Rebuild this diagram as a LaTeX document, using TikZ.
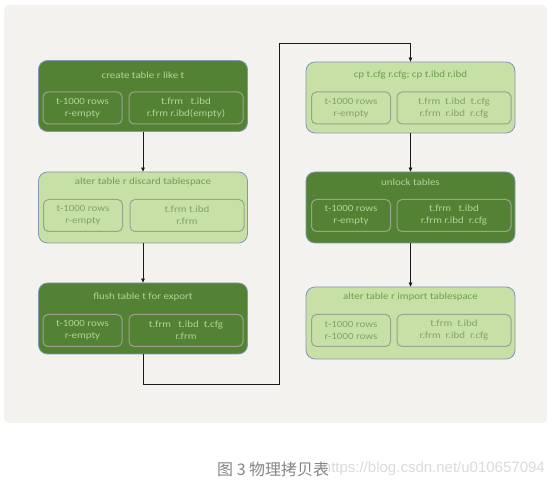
\documentclass[tikz,border=0pt]{standalone}
\usepackage{fontspec}
\setmainfont{Carlito}[FakeStretch=1.15]
\newfontfamily\cjkfont{Noto Sans CJK SC}
\newfontfamily\wmfont{Liberation Sans}
\usetikzlibrary{arrows.meta}
\definecolor{panelbg}{HTML}{F3F2EE}
\definecolor{darkgreen}{HTML}{548235}
\definecolor{lightgreen}{HTML}{C6E0A6}
\definecolor{darktext}{HTML}{B0D496}
\definecolor{lighttext}{HTML}{6E9E4C}
\definecolor{lightinnertext}{HTML}{85A06E}
\definecolor{stageborder}{HTML}{8497B0}
\definecolor{innerborder}{HTML}{9CA292}
\definecolor{captiongray}{HTML}{858585}
\definecolor{wmgray}{HTML}{DADADA}
\tikzset{
  stagebox/.style={draw=stageborder, line width=0.8pt, rounded corners=9pt,
    minimum width=209pt, minimum height=71pt, inner sep=0pt},
  darkbox/.style={stagebox, fill=darkgreen},
  lightbox/.style={stagebox, fill=lightgreen},
  ttl/.style={font=\fontsize{9.5}{12}\selectfont, inner sep=0pt},
  innerbox/.style={draw=innerborder, line width=1pt, rounded corners=5pt,
    minimum height=32pt, inner sep=0pt, align=center,
    font=\fontsize{9.5}{12}\selectfont},
  leftin/.style={innerbox, minimum width=79pt},
  rightin/.style={innerbox, minimum width=114pt},
  onDark/.style={text=darktext},
  onLight/.style={text=lighttext},
  onLightIn/.style={text=lightinnertext},
  flow/.style={draw=black!90, line width=0.8pt, -{Triangle[length=4pt,width=3.6pt]}},
}
\begin{document}
\begin{tikzpicture}[x=1pt,y=-1pt]
\useasboundingbox (0,0) rectangle (555,486);
\fill[panelbg, rounded corners=5pt] (4,5) rectangle (547,423);

% left column
\node[darkbox] (b1) at (143,96) {};
\node[ttl, onDark] (t1) at (143,75) {create table r like t};
\node[leftin, onDark] (b1l) at (82.5,108) {t-1000 rows\\r-empty};
\node[rightin, onDark] (b1r) at (186,108) {t.frm\ \ \ t.ibd\\r.frm r.ibd(empty)};

\node[lightbox] (b2) at (143,207.5) {};
\node[ttl, onLight] (t2) at (143,182) {alter table r discard tablespace};
\node[leftin, onLightIn] (b2l) at (83,215.5) {t-1000 rows\\r-empty};
\node[rightin, onLightIn] (b2r) at (187,215.5) {t.frm t.ibd\\r.frm};

\node[darkbox] (b3) at (143,318.5) {};
\node[ttl, onDark] (t3) at (143,297) {flush table t for export};
\node[leftin, onDark] (b3l) at (82.5,330.5) {t-1000 rows\\r-empty};
\node[rightin, onDark] (b3r) at (186,330.5) {t.frm\ \ \ t.ibd\ \ t.cfg\\r.frm};

% right column
\node[lightbox] (b4) at (410.5,97.5) {};
\node[ttl, onLight] (t4) at (410.5,75) {cp t.cfg r.cfg; cp t.ibd r.ibd};
\node[leftin, onLightIn] (b4l) at (351,108) {t-1000 rows\\r-empty};
\node[rightin, onLightIn] (b4r) at (454,108) {t.frm\ \ t.ibd\ \ t.cfg\\r.frm\ \ r.ibd\ \ r.cfg};

\node[darkbox] (b5) at (410.5,207.5) {};
\node[ttl, onDark] (t5) at (410.5,182) {unlock tables};
\node[leftin, onDark] (b5l) at (351,215.5) {t-1000 rows\\r-empty};
\node[rightin, onDark] (b5r) at (454,215.5) {t.frm\ \ \ t.ibd\\r.frm r.ibd\ \ r.cfg};

\node[lightbox, minimum height=72pt] (b6) at (410.5,323) {};
\node[ttl, onLight] (t6) at (410.5,297) {alter table r import tablespace};
\node[leftin, onLightIn] (b6l) at (351,330.5) {t-1000 rows\\r-1000 rows};
\node[rightin, onLightIn] (b6r) at (454,330.5) {t.frm\ \ t.ibd\\r.frm\ \ r.ibd\ \ r.cfg};

% connectors
\coordinate (c1) at (279,384);
\coordinate (c2) at (279,43);
\draw[flow] (b1.south) -- (b2.north);
\draw[flow] (b2.south) -- (b3.north);
\draw[flow] (b3.south) |- (c1) -- (c2) -| (b4.north);
\draw[flow] (b4.south) -- (b5.north);
\draw[flow] (b5.south) -- (b6.north);

% caption and watermark
\node[anchor=east, inner sep=0pt, text=wmgray, font=\wmfont\fontsize{15}{18}\selectfont] (wm) at (545,469) {https://blog.csdn.net/u010657094};
\node[anchor=west, inner sep=0pt, text=captiongray, font=\cjkfont\fontsize{16}{18}\selectfont] (cap) at (217,469) {图 3 物理拷贝表};
\end{tikzpicture}
\end{document}
